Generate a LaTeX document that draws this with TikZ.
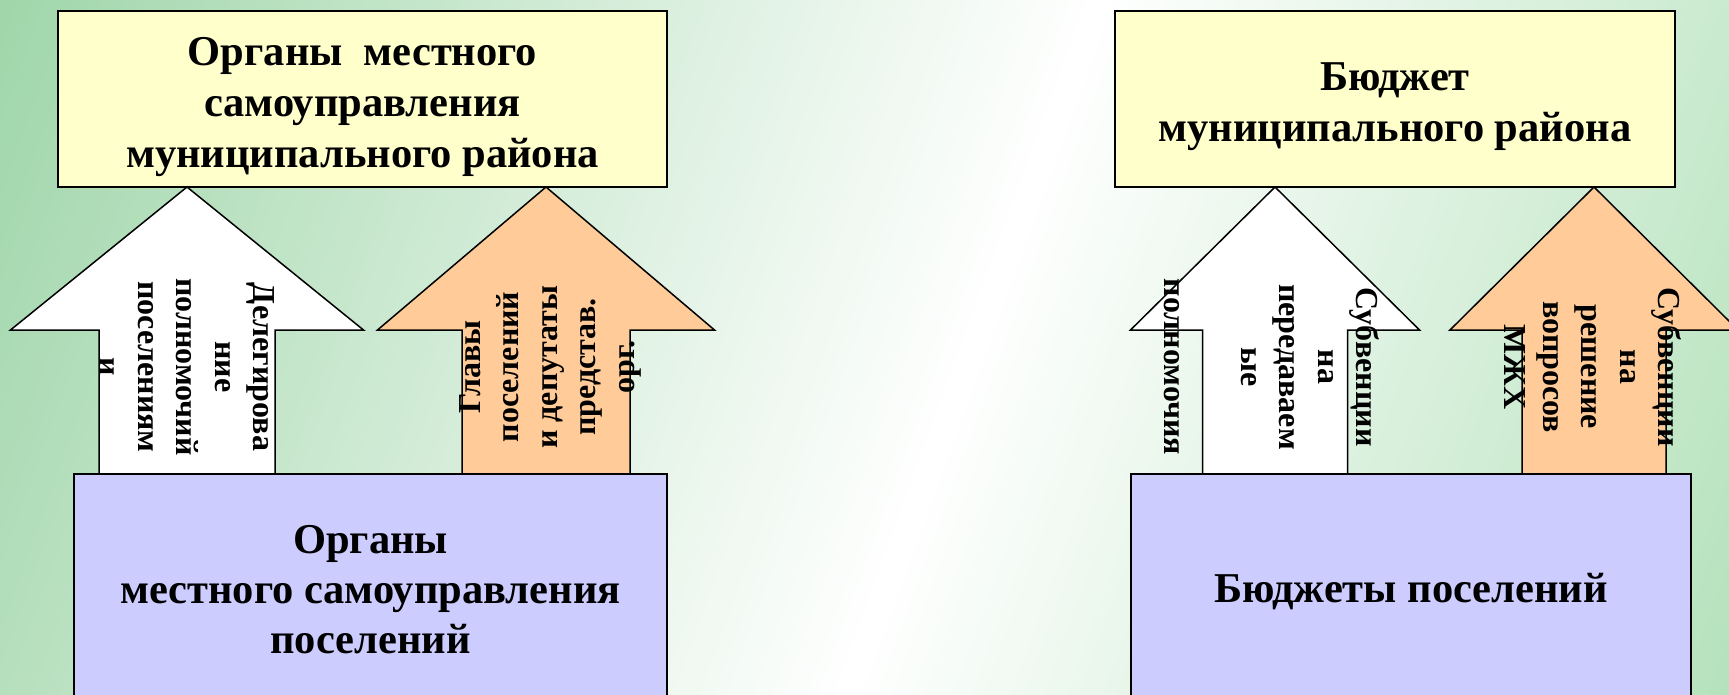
\documentclass[tikz,border=0pt]{standalone}
\usepackage{fontspec}
\setmainfont{Liberation Serif}
\usetikzlibrary{calc}
\usepackage{xcolor}
\definecolor{bggreen}{HTML}{A0D6AA}
\definecolor{bggreenb}{HTML}{B5E2BC}
\definecolor{boxyellow}{HTML}{FFFFCC}
\definecolor{boxblue}{HTML}{CCCCFF}
\definecolor{arroworange}{HTML}{FFCC99}
\pgfdeclarehorizontalshading{slidebg}{100bp}{color(0bp)=(bggreen); color(18bp)=(bggreen); color(53.5bp)=(white); color(82bp)=(bggreenb); color(100bp)=(bggreenb)}

\begin{document}
\begin{tikzpicture}[x=1pt, y=-1pt,
  topbox/.style={draw, line width=2.5pt, fill=boxyellow, align=center, inner sep=0pt,
    font=\fontsize{42.5}{51}\selectfont\bfseries},
  lowbox/.style={draw, line width=2.5pt, fill=boxblue, align=center, inner sep=0pt,
    font=\fontsize{42.5}{50}\selectfont\bfseries},
  arrowbody/.style={draw, line width=1.5pt, line join=miter},
  arrowtext/.style={align=center, inner sep=0pt,
    font=\fontsize{32}{38.5}\selectfont\bfseries}]
\useasboundingbox (0,0) rectangle (1729,695);
\shade[shading=slidebg, shading angle=-20] (0,0) rectangle (1729,695);
\clip (0,0) rectangle (1729,695);

% upper level
\node[topbox, minimum width=609pt, minimum height=176pt] (omsrayon) at (362.5,99)
  {\rule{0pt}{45pt}Органы\ \ местного\\самоуправления\\муниципального района};
\node[topbox, minimum width=560pt, minimum height=176pt] (budrayon) at (1395,99)
  {\rule{0pt}{44pt}Бюджет\\муниципального района};

% block arrows
\foreach \tx/\hw/\sw/\col in {187/176.5/88/white, 546/168.5/84/arroworange,
                              1275/144.5/72.5/white, 1594/144/72/arroworange}
 \draw[arrowbody, fill=\col] (\tx,187) -- (\tx+\hw,330) -- (\tx+\sw,330) -- (\tx+\sw,474)
   -- (\tx-\sw,474) -- (\tx-\sw,330) -- (\tx-\hw,330) -- cycle;

% lower level
\node[lowbox, minimum width=593pt, minimum height=232pt] (omsposel) at (370.5,590)
  {Органы\\местного самоуправления\\поселений};
\node[lowbox, minimum width=560pt, minimum height=236pt] (budposel) at (1411,592)
  {Бюджеты поселений};

% arrow labels
\node[arrowtext, rotate=-90] (deleg) at (187,367) {Делегирова\\ние\\полномочий\\поселениям\\и};
\node[arrowtext, rotate=90] (glavy) at (550,367) {Главы\\поселений\\и депутаты\\представ.\\орг.};
\node[arrowtext, rotate=-90] (subvper) at (1272,367) {Субвенции\\на\\передаваем\\ые\\\mbox{}\\полномочия};
\node[arrowtext, rotate=-90] (subvmzh) at (1593,367) {Субвенции\\на\\решение\\вопросов\\МЖХ};
\end{tikzpicture}
\end{document}
